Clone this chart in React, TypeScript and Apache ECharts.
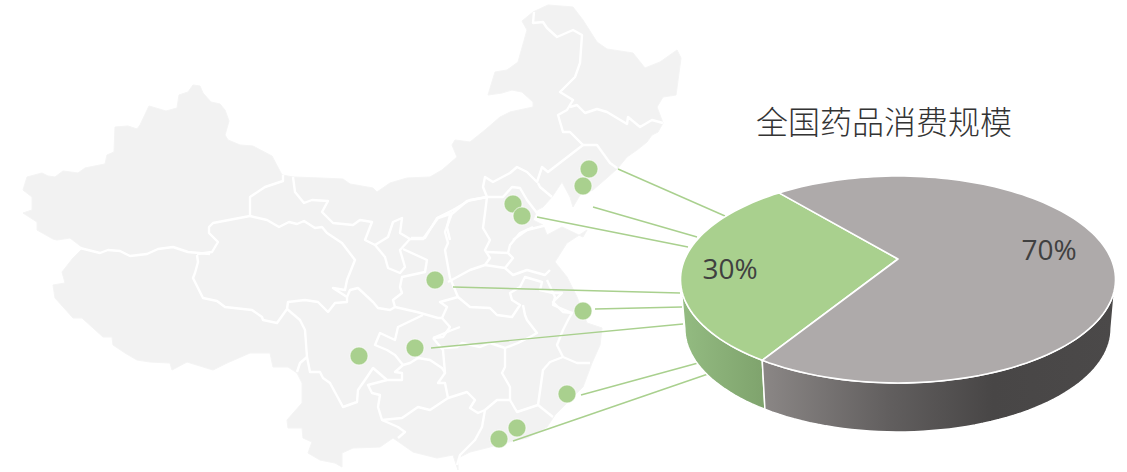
import React, { useEffect, useRef } from "react";
import * as echarts from "echarts";

const W = 1127;
const H = 472;

const titleText = "全国药品消费规模";
const sliceNames = ["省会城市", "其他"];
const sliceValues = [30, 70];
const sliceColors = ["#A9D08E", "#AEAAAA"];
const labelPositions = [[730, 268], [1049, 249]];

const cityDots = [
  [589, 169], [583, 186], [513, 204], [522, 216], [435, 280], [583, 311],
  [415, 348], [359, 356], [567, 394], [517, 428], [499, 439],
];

const leaderStarts = [[618, 169], [593, 207], [537, 217], [453, 287], [595, 309], [431, 348], [581, 395], [513, 441]];
const leaderEnds = [[725, 216], [697, 237], [688, 247], [680, 293], [682, 307], [683, 324], [698, 363], [708, 374]];

const chinaOutline = [
  [23, 190], [27, 177], [42, 173], [48, 176], [55, 177], [63, 171], [78, 173], [85, 168], [105, 164], [107, 155],
  [114, 152], [115, 127], [128, 126], [137, 129], [140, 125], [149, 106], [166, 111], [177, 108], [179, 95], [188, 92],
  [193, 85], [200, 86], [203, 93], [211, 102], [220, 104], [225, 110], [229, 121], [225, 135], [228, 140], [240, 145],
  [253, 146], [272, 156], [282, 175], [293, 177], [320, 178], [343, 179], [350, 184], [373, 188], [377, 192], [390, 183],
  [407, 178], [430, 177], [442, 170], [457, 157], [452, 145], [455, 140], [470, 142], [485, 130], [500, 117], [510, 112],
  [533, 107], [533, 102], [522, 92], [512, 90], [502, 93], [488, 95], [495, 72], [507, 70], [518, 62], [527, 30],
  [522, 21], [533, 12], [548, 5], [573, 7], [583, 20], [597, 42], [607, 49], [633, 53], [645, 68], [660, 62],
  [677, 50], [681, 58], [676, 95], [663, 97], [657, 107], [663, 123], [658, 132], [652, 135], [647, 142], [637, 150],
  [627, 157], [618, 168], [608, 177], [593, 190], [580, 195], [573, 207], [570, 197], [562, 182], [552, 197], [543, 207],
  [537, 210], [533, 220], [543, 225], [547, 235], [562, 227], [583, 237], [587, 230], [567, 243], [555, 262], [567, 277],
  [577, 297], [587, 323], [602, 328], [600, 345], [592, 363], [583, 387], [570, 400], [555, 415], [547, 427], [527, 438],
  [517, 440], [490, 447], [470, 452], [458, 458], [458, 470], [453, 455], [437, 458], [413, 452], [393, 438], [380, 447],
  [353, 448], [342, 453], [342, 467], [335, 463], [320, 460], [308, 453], [312, 442], [303, 438], [302, 428], [288, 428],
  [287, 420], [302, 403], [302, 383], [297, 373], [288, 367], [273, 367], [270, 353], [250, 353], [227, 363], [213, 370],
  [187, 362], [172, 370], [170, 363], [150, 362], [137, 360], [125, 353], [113, 345], [112, 337], [103, 337], [82, 318],
  [73, 318], [55, 298], [53, 285], [65, 283], [62, 272], [73, 258], [83, 248], [70, 238], [57, 240], [53, 239],
  [37, 230], [37, 222], [23, 213], [32, 210], [32, 197],
];

const provinceBorders = [
  [[283, 175], [283, 181], [265, 187], [250, 197], [250, 216], [213, 223], [209, 227], [209, 233], [218, 242], [212, 252], [197, 254]],
  [[80, 248], [100, 253], [108, 250], [120, 251], [130, 256], [147, 254], [158, 249], [173, 247], [188, 252], [210, 254]],
  [[197, 255], [198, 262], [195, 273], [193, 278], [203, 298], [217, 301], [225, 307], [252, 310], [262, 317], [263, 320], [277, 323], [287, 309], [288, 302], [305, 300], [318, 302], [328, 312], [335, 303], [347, 302], [347, 297], [333, 288], [345, 290], [347, 280], [355, 260], [342, 243], [327, 233], [322, 227], [315, 228], [304, 221], [297, 224], [289, 222], [279, 227], [267, 220], [250, 216]],
  [[293, 177], [295, 192], [304, 203], [312, 200], [328, 201], [322, 212], [333, 223], [353, 225], [360, 220], [372, 222], [365, 240], [375, 245], [388, 237], [393, 222], [402, 218], [400, 233], [410, 239], [423, 239], [438, 218], [453, 213], [467, 201], [487, 197], [503, 197], [512, 187], [520, 188], [527, 200], [537, 213]],
  [[375, 245], [385, 257], [388, 268], [400, 273], [405, 267], [400, 250], [410, 239]],
  [[403, 249], [427, 260], [425, 272], [402, 277], [400, 287], [402, 293], [393, 300], [395, 307], [417, 312], [438, 318], [442, 318], [447, 307], [440, 302], [458, 297], [450, 278], [445, 250], [448, 243], [445, 232], [452, 213]],
  [[347, 297], [350, 290], [358, 288], [373, 302], [378, 308], [390, 310], [395, 307]],
  [[448, 282], [470, 270], [485, 265], [490, 258], [485, 250], [490, 240], [483, 228], [485, 213], [487, 197], [483, 187], [485, 177], [493, 182], [510, 173], [517, 167], [527, 172], [537, 182], [542, 167], [548, 172], [583, 145], [570, 132], [563, 132], [558, 115], [567, 110], [573, 100], [560, 92], [575, 77], [580, 63], [582, 35], [573, 30], [557, 37], [547, 28], [543, 22], [533, 23], [534, 12]],
  [[570, 107], [577, 105], [585, 113], [597, 109], [607, 112], [627, 124], [628, 117], [640, 127], [652, 120], [663, 123]],
  [[583, 145], [597, 145], [610, 163], [617, 168]],
  [[538, 183], [540, 187], [552, 197]],
  [[487, 252], [508, 253], [513, 258], [505, 268], [513, 275], [527, 270], [545, 275], [550, 270]],
  [[508, 253], [510, 245], [520, 233], [533, 227]],
  [[485, 265], [505, 268]],
  [[458, 297], [470, 307], [490, 308], [497, 315], [512, 317], [520, 305], [512, 300], [510, 293], [520, 287], [525, 277], [542, 282], [540, 290], [553, 293], [562, 293], [553, 302], [563, 312], [573, 313]],
  [[523, 305], [525, 315], [527, 320], [537, 333], [530, 337], [518, 343], [505, 348]],
  [[547, 280], [555, 297], [553, 305], [572, 313], [568, 320], [563, 330], [557, 345], [563, 357], [577, 363], [590, 363]],
  [[563, 357], [550, 362], [543, 370], [538, 405], [553, 417]],
  [[423, 315], [398, 327], [395, 340], [380, 333], [375, 345], [387, 350], [395, 355], [403, 365], [395, 372], [402, 373], [402, 380], [387, 380], [373, 368], [367, 377], [358, 390], [357, 402], [343, 407], [330, 383], [323, 378], [320, 372], [310, 372], [307, 357], [305, 330], [300, 320], [287, 309]],
  [[307, 357], [300, 363], [297, 372]],
  [[387, 380], [368, 385], [372, 393], [380, 395], [378, 407], [382, 420], [398, 427], [405, 432], [398, 438]],
  [[382, 420], [402, 418], [418, 407], [430, 410], [448, 398], [467, 392], [475, 400], [470, 408], [478, 413], [485, 410], [497, 400], [510, 400], [517, 412], [538, 405]],
  [[448, 398], [445, 383], [438, 383], [445, 373], [442, 368], [430, 360], [418, 358], [410, 363], [403, 365]],
  [[433, 338], [443, 350], [445, 373]],
  [[433, 338], [452, 330], [460, 327]],
  [[443, 348], [457, 347], [462, 343], [480, 347], [490, 343], [505, 348], [505, 367], [502, 373], [510, 387], [510, 400]],
  [[485, 410], [482, 427], [475, 440], [460, 455], [457, 465]],
  [[442, 318], [450, 327], [443, 337], [433, 338]],
  [[450, 240], [447, 227], [450, 215]],
  [[513, 240], [527, 230], [547, 225]],
  [[487, 197], [470, 200], [453, 210], [437, 218], [425, 238], [411, 238]],
];

// Projection of the tilted pie: a circle in perspective
const apexX = 898;
const apexY = 259;
const kx = 213.2;
const ky = 99.4;
const tilt = -0.198;
const depth = 49;
const baseScale = 0.98;
const firstSliceStart = 212;
const frontStart = 101.4;
const frontEnd = 258.6;

function project(deg: number, r = 1, shrink = 1, drop = 0) {
  const t = (deg * Math.PI) / 180;
  const x = Math.sin(t) * r;
  const y = -Math.cos(t) * r;
  const w = 1 + tilt * y;
  return [apexX + (kx * shrink * x) / w, apexY + (ky * y) / w + drop];
}

function sliceRange(index: number) {
  const total = sliceValues.reduce((a, b) => a + b, 0);
  let start = firstSliceStart;
  for (let i = 0; i < index; i++) start += (sliceValues[i] / total) * 360;
  return [start, start + (sliceValues[index] / total) * 360];
}

function arcPoints(a: number, b: number, shrink = 1, drop = 0) {
  const n = Math.max(1, Math.ceil(Math.abs(b - a) / 2));
  const pts: number[][] = [];
  for (let i = 0; i <= n; i++) pts.push(project(a + ((b - a) * i) / n, 1, shrink, drop));
  return pts;
}

// Only the part of a slice on the near side of the pie shows a wall
function frontRange(a: number, b: number) {
  for (const shift of [0, -360, 360]) {
    const lo = Math.max(a + shift, frontStart);
    const hi = Math.min(b + shift, frontEnd);
    if (hi > lo) return [lo, hi];
  }
  return null;
}

const wallFills: any[] = [
  { type: "linear", x: 682, y: 0, x2: 768, y2: 0, global: true, colorStops: [{ offset: 0, color: "#93BB81" }, { offset: 1, color: "#7EA26C" }] },
  { type: "linear", x: 765, y: 0, x2: 1115, y2: 0, global: true, colorStops: [{ offset: 0, color: "#8A8685" }, { offset: 0.35, color: "#625F5F" }, { offset: 0.65, color: "#484646" }, { offset: 1, color: "#4B4949" }] },
];

export default function App() {
  const ref = useRef<HTMLDivElement>(null);

  useEffect(() => {
    if (!ref.current) return;
    const chart = echarts.init(ref.current, undefined, { renderer: "svg", width: W, height: H });
    chart.setOption({
      animation: false,
      backgroundColor: "#ffffff",
      title: {
        text: titleText,
        left: 756,
        top: 104,
        padding: 0,
        textStyle: { fontFamily: "Noto Sans CJK SC", fontSize: 32, fontWeight: 300, color: "#333333" },
      },
      grid: { left: 0, right: 0, top: 0, bottom: 0 },
      xAxis: { type: "value", min: 0, max: W, show: false },
      yAxis: { type: "value", min: 0, max: H, inverse: true, show: false },
      series: [
        {
          type: "custom",
          name: "map",
          coordinateSystem: "cartesian2d",
          clip: false,
          silent: true,
          z: 1,
          data: [[0, 0]],
          renderItem: (_p: any, api: any) => ({
            type: "group",
            children: [
              {
                type: "polygon",
                shape: { points: chinaOutline.map((p) => api.coord(p)) },
                style: { fill: "#F2F2F2", stroke: "#F4F4F4", lineWidth: 1 },
              },
              ...provinceBorders.map((line) => ({
                type: "polyline",
                shape: { points: line.map((p) => api.coord(p)) },
                style: { fill: "none", stroke: "#FFFFFF", lineWidth: 2.4, lineJoin: "round" },
              })),
            ],
          }),
        },
        {
          type: "lines",
          coordinateSystem: "cartesian2d",
          z: 2,
          silent: true,
          lineStyle: { color: "#A9D08E", width: 1.4, opacity: 1, curveness: 0 },
          data: leaderStarts.map((s, i) => ({ coords: [s, leaderEnds[i]] })),
        },
        {
          type: "scatter",
          z: 3,
          silent: true,
          symbol: "circle",
          symbolSize: 18,
          itemStyle: { color: "#A9D08E", borderColor: "rgba(255,255,255,0.7)", borderWidth: 1, opacity: 1 },
          data: cityDots,
        },
        {
          type: "custom",
          name: "pie-wall",
          coordinateSystem: "none",
          z: 4,
          silent: true,
          data: sliceValues.map((v, i) => ({ name: sliceNames[i], value: v })),
          renderItem: (p: any) => {
            const [a, b] = sliceRange(p.dataIndex);
            const range = frontRange(a, b);
            if (!range) return { type: "group", children: [] };
            const top = arcPoints(range[0], range[1]);
            const bottom = arcPoints(range[0], range[1], baseScale, depth).reverse();
            return {
              type: "polygon",
              shape: { points: [...top, ...bottom] },
              style: { fill: wallFills[p.dataIndex], stroke: "#FFFFFF", lineWidth: 1.5 },
            };
          },
        },
        {
          type: "custom",
          name: "pie-top",
          coordinateSystem: "none",
          z: 5,
          silent: true,
          data: sliceValues.map((v, i) => ({ name: sliceNames[i], value: v })),
          renderItem: (p: any) => {
            const i = p.dataIndex;
            const [a, b] = sliceRange(i);
            const [lx, ly] = labelPositions[i];
            return {
              type: "group",
              children: [
                {
                  type: "polygon",
                  shape: { points: [[apexX, apexY], ...arcPoints(a, b)] },
                  style: { fill: sliceColors[i], stroke: "#FFFFFF", lineWidth: 1.6, lineJoin: "round" },
                },
                {
                  type: "text",
                  x: lx,
                  y: ly,
                  z2: 10,
                  style: {
                    text: `${sliceValues[i]}%`,
                    fill: "#404040",
                    fontFamily: "Open Sans",
                    fontSize: 28,
                    align: "center",
                    verticalAlign: "middle",
                  },
                },
              ],
            };
          },
        },
      ],
    });
    return () => chart.dispose();
  }, []);

  return <div ref={ref} style={{ position: "absolute", left: 0, top: 0, width: W, height: H }} />;
}
